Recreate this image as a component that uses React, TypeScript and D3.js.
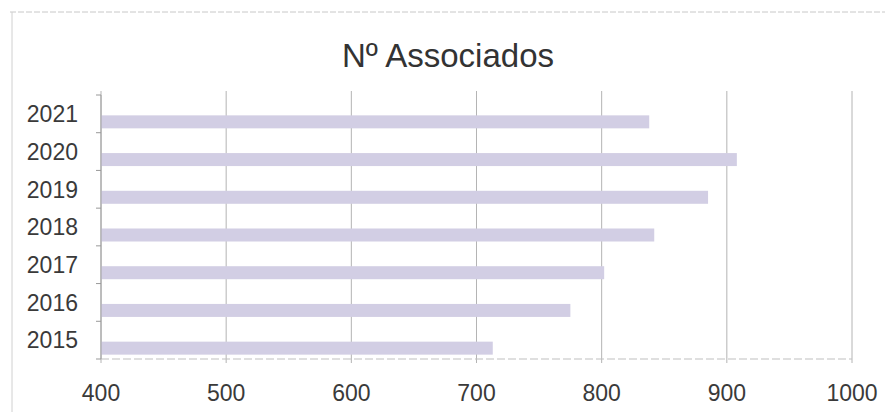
import React from 'react';
import * as d3 from 'd3';

const years = ['2021', '2020', '2019', '2018', '2017', '2016', '2015'];
const members = [838, 908, 885, 842, 802, 775, 713];
const xTicks = [400, 500, 600, 700, 800, 900, 1000];
const title = 'Nº Associados';

export default function App() {
  const W = 885, H = 412;
  const margin = { left: 101, right: 33, top: 95, bottom: 53 };

  const x = d3.scaleLinear()
    .domain([400, 1000])
    .range([margin.left, W - margin.right]);
  const y = d3.scaleBand()
    .domain(years)
    .range([margin.top, H - margin.bottom]);

  const barH = 13;
  const barShift = 8; // scan puts bars a bit below the band centre
  const font = "'Liberation Sans', Arial, sans-serif";

  const bars = years.map((d: string, i: number) => {
    const cy = (y(d) as number) + y.bandwidth() / 2 + barShift;
    return (
      <rect key={d} x={x(400)} y={cy - barH / 2} width={x(members[i]) - x(400)} height={barH} fill='#d2cee4' />
    );
  });

  const grid = xTicks.map((t: number) => (
    <line key={t} x1={x(t)} x2={x(t)} y1={margin.top - 4} y2={H - margin.bottom + 4} stroke='#b4b4b4' strokeWidth={1} />
  ));

  const xLabels = xTicks.map((t: number) => (
    <text key={t} x={x(t)} y={401} textAnchor='middle' fontSize={23} fill='#3a3a3a' fontFamily={font}>{t}</text>
  ));

  const yLabels = years.map((d: string) => (
    <text key={d} x={78} y={(y(d) as number) + y.bandwidth() / 2} dy='0.36em' textAnchor='end' fontSize={23} fill='#3a3a3a' fontFamily={font}>{d}</text>
  ));

  const yTicks = [...years.map((d: string) => y(d) as number), H - margin.bottom].map((v: number, i: number) => (
    <line key={i} x1={margin.left - 5} x2={margin.left} y1={v} y2={v} stroke='#999' strokeWidth={1} />
  ));

  return (
    <svg width={W} height={H} style={{ position: 'absolute', left: 0, top: 0, background: '#fff' }}>
      <rect x={0} y={0} width={W} height={H} fill='#fff' />
      <line x1={10} x2={W} y1={12} y2={12} stroke='#c8c8c8' strokeWidth={1} strokeDasharray='6 2' />
      <line x1={12} x2={12} y1={12} y2={H} stroke='#d0d0d0' strokeWidth={1} />
      {grid}
      {bars}
      <line x1={margin.left} x2={W - margin.right} y1={H - margin.bottom} y2={H - margin.bottom} stroke='#c0c0c0' strokeWidth={1.2} strokeDasharray='8 3' />
      <line x1={margin.left} x2={margin.left} y1={margin.top} y2={H - margin.bottom} stroke='#a0a0a0' strokeWidth={1} />
      {yTicks}
      {yLabels}
      {xLabels}
      <text x={448} y={67} textAnchor='middle' fontSize={33} fill='#333' fontFamily={font}>{title}</text>
    </svg>
  );
}
